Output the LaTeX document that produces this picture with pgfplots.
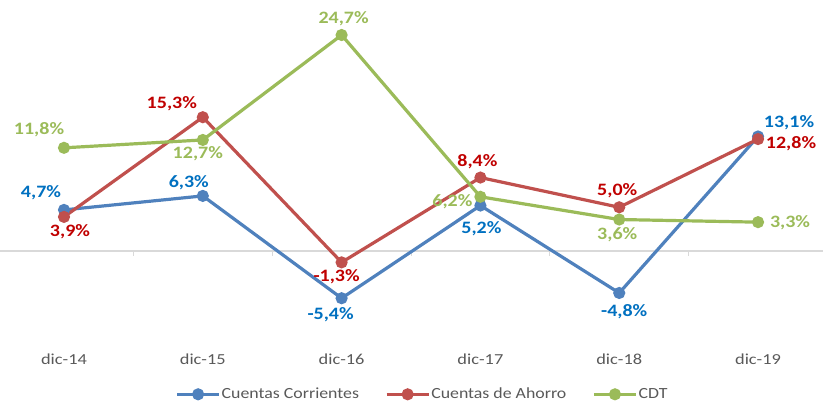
\documentclass[border=0pt]{standalone}
\usepackage{pgfplots}
\usepackage{pgfplotstable}
\pgfplotsset{compat=1.18}
\usepackage{fontspec}
\setmainfont{Carlito}
\usepackage{graphicx}
\definecolor{ccline}{HTML}{4F81BD}
\definecolor{caline}{HTML}{C0504D}
\definecolor{cdtline}{HTML}{9BBB59}
\definecolor{cclab}{HTML}{0070C0}
\definecolor{calab}{HTML}{C00000}
\definecolor{cdtlab}{HTML}{9BBB59}
\definecolor{labgray}{HTML}{595959}
\definecolor{zerogray}{HTML}{D9D9D9}
\newcommand{\hs}[1]{\scalebox{1.15}[1]{#1}}
\newcommand{\hst}[1]{\scalebox{1.2}[1]{#1}}

\pgfplotstableread{
x y lab dx dy
0 4.7 4,7 -23 17
1 6.3 6,3 -14 13
2 -5.4 -5,4 -11 -16
3 5.2 5,2 1 -23
4 -4.8 -4,8 5 -19
5 13.1 13,1 31 14
}\ccdata
\pgfplotstableread{
x y lab dx dy
0 3.9 3,9 6 -15
1 15.3 15,3 -31 14
2 -1.3 -1,3 -5 -14
3 8.4 8,4 -3 16
4 5.0 5,0 -2 17
5 12.8 12,8 33 -5
}\cadata
\pgfplotstableread{
x y lab dx dy
0 11.8 11,8 -25 18
1 12.7 12,7 -5 -14
2 24.7 24,7 2 16
3 6.2 6,2 -28 -5
4 3.6 3,6 -2 -15
5 3.3 3,3 32 -1
}\cdtdata

\pgfplotsset{
  labelplot/.style={
    only marks, mark=none, forget plot,
    point meta=explicit symbolic,
    visualization depends on={\thisrow{dx} \as \dx},
    visualization depends on={\thisrow{dy} \as \dy},
    nodes near coords={\hs{\pgfplotspointmeta\%}},
    nodes near coords align={center},
    every node near coord/.append style={anchor=center, xshift=\dx pt, yshift=\dy pt,
      font=\bfseries\fontsize{17.4}{18}\selectfont, text=#1},
  },
  serie/.style={color=#1, line width=3.2pt, mark=*, mark size=4.4pt, mark options={solid}},
}

\begin{document}
\begin{tikzpicture}
\begin{axis}[
  at={(0pt,63.55pt)}, anchor=south west,
  scale only axis, width=823pt, height=323.55pt,
  xmin=-0.461, xmax=5.468, ymin=-10, ymax=27,
  axis line style={draw=none},
  ytick=\empty,
  xtick={0,1,2,3,4,5},
  xticklabels={\hst{dic-14},\hst{dic-15},\hst{dic-16},\hst{dic-17},\hst{dic-18},\hst{dic-19}},
  major tick length=0pt,
  xtick style={draw=none},
  xticklabel style={anchor=base, yshift=-25.85pt, font=\fontsize{15.3}{16}\selectfont, text=labgray},
  clip=false,
  legend columns=-1,
  legend style={at={(0.5128,-0.1726)}, anchor=center, draw=none, fill=none,
    font=\fontsize{15.5}{16}\selectfont, text=labgray,
    /tikz/every even column/.append style={column sep=25pt},
    nodes={inner sep=1pt}},
  legend image code/.code={\draw[mark repeat=2,mark phase=2] plot coordinates {(0pt,0pt) (21pt,0pt) (42pt,0pt)};},
]
\addplot[color=zerogray, line width=1.3pt, forget plot] coordinates {(-0.461,0) (5.468,0)};
\addplot[ycomb, color=zerogray, line width=1pt, forget plot] coordinates {(0.5,-0.55) (1.5,-0.55) (2.5,-0.55) (3.5,-0.55) (4.5,-0.55)};

\addplot[serie=ccline] table[x=x,y=y] {\ccdata};
\addlegendentry{\hs{Cuentas Corrientes}}
\addplot[serie=caline] table[x=x,y=y] {\cadata};
\addlegendentry{\hs{Cuentas de Ahorro}}
\addplot[serie=cdtline] table[x=x,y=y] {\cdtdata};
\addlegendentry{\hs{CDT}}

\addplot[labelplot=cclab] table[x=x,y=y,meta=lab] {\ccdata};
\addplot[labelplot=calab] table[x=x,y=y,meta=lab] {\cadata};
\addplot[labelplot=cdtlab] table[x=x,y=y,meta=lab] {\cdtdata};
\end{axis}
\pgfresetboundingbox
\path[use as bounding box] (0pt,0pt) rectangle (823pt,402pt);
\end{tikzpicture}
\end{document}
